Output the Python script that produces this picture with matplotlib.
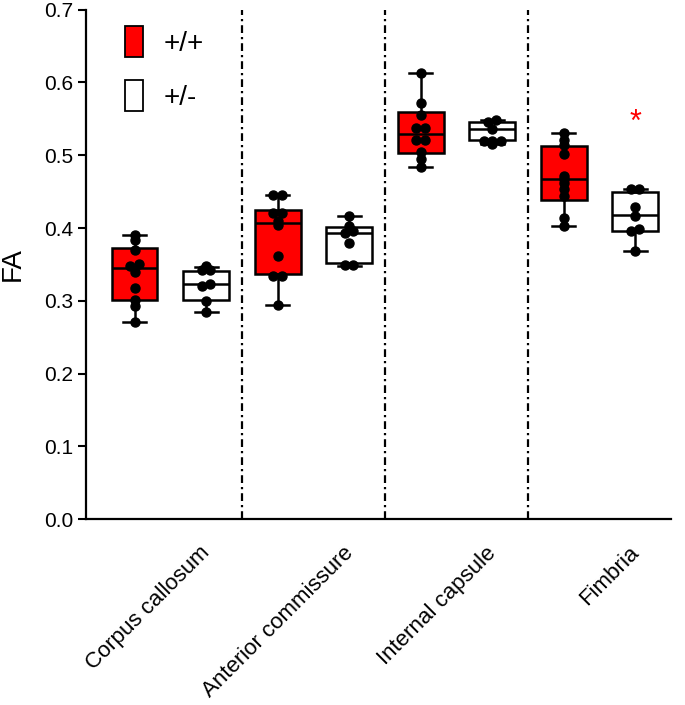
import numpy as np
import matplotlib
matplotlib.use("Agg")
import matplotlib.pyplot as plt
import matplotlib.transforms as mtransforms
from matplotlib.patches import Patch

plt.rcParams["font.family"] = ["Liberation Sans", "DejaVu Sans"]

# ------------------------------------------------------------
# data
# ------------------------------------------------------------
regions = ["Corpus callosum", "Anterior commissure", "Internal capsule", "Fimbria"]
groups = ["+/+", "+/-"]

# box statistics per region: +/+ (wild type)
wt_lo  = [0.271, 0.294, 0.484, 0.403]
wt_q1  = [0.301, 0.337, 0.503, 0.439]
wt_med = [0.345, 0.407, 0.529, 0.467]
wt_q3  = [0.372, 0.425, 0.559, 0.513]
wt_hi  = [0.391, 0.445, 0.613, 0.530]

# box statistics per region: +/- (heterozygous)
het_lo  = [0.285, 0.348, 0.515, 0.369]
het_q1  = [0.301, 0.352, 0.521, 0.396]
het_med = [0.323, 0.393, 0.536, 0.418]
het_q3  = [0.341, 0.401, 0.545, 0.450]
het_hi  = [0.347, 0.417, 0.549, 0.454]

# individual animals
wt_cc = [0.391, 0.383, 0.370, 0.351, 0.348, 0.340, 0.317, 0.301, 0.293, 0.271]
wt_ac = [0.445, 0.445, 0.421, 0.421, 0.410, 0.404, 0.361, 0.334, 0.334, 0.294]
wt_ic = [0.613, 0.572, 0.555, 0.537, 0.537, 0.521, 0.521, 0.504, 0.495, 0.484]
wt_fi = [0.530, 0.521, 0.514, 0.501, 0.472, 0.467, 0.462, 0.453, 0.444, 0.414, 0.403]

het_cc = [0.348, 0.343, 0.343, 0.323, 0.320, 0.300, 0.285]
het_ac = [0.417, 0.403, 0.396, 0.393, 0.380, 0.349, 0.349]
het_ic = [0.549, 0.546, 0.536, 0.520, 0.520, 0.519, 0.515]
het_fi = [0.454, 0.454, 0.429, 0.417, 0.399, 0.396, 0.369]

wt_points = [wt_cc, wt_ac, wt_ic, wt_fi]
het_points = [het_cc, het_ac, het_ic, het_fi]

# significance marker (+/- Fimbria)
sig_region = 3
sig_y = 0.555

# ------------------------------------------------------------
# style
# ------------------------------------------------------------
RED = "#ff0000"
OFFSET = 0.25
BOX_W = 0.32
LW = 1.8


def make_stats(lo, q1, med, q3, hi):
    return [dict(whislo=a, q1=b, med=c, q3=d, whishi=e, fliers=[])
            for a, b, c, d, e in zip(lo, q1, med, q3, hi)]


def swarm_x(vals, center, gap=0.004, step=0.06):
    # spread near-identical values side by side
    vals = np.asarray(vals)
    order = np.argsort(vals)
    xs = np.full(len(vals), float(center))
    clusters, cur = [], [order[0]]
    for i in order[1:]:
        if vals[i] - vals[cur[-1]] < gap:
            cur.append(i)
        else:
            clusters.append(cur)
            cur = [i]
    clusters.append(cur)
    for c in clusters:
        n = len(c)
        for k, idx in enumerate(c):
            xs[idx] = center + (k - (n - 1) / 2) * step
    return xs


fig = plt.figure(figsize=(6.85, 7.05), dpi=100)
ax = fig.add_axes([0.1255, 0.2634, 0.854, 0.723])

pos = np.arange(len(regions))

for stats, shift, face in [(make_stats(wt_lo, wt_q1, wt_med, wt_q3, wt_hi), -OFFSET, RED),
                           (make_stats(het_lo, het_q1, het_med, het_q3, het_hi), OFFSET, "white")]:
    ax.bxp(stats, positions=pos + shift, widths=BOX_W, capwidths=BOX_W / 2,
           patch_artist=True, showfliers=False,
           boxprops=dict(facecolor=face, edgecolor="black", linewidth=LW),
           medianprops=dict(color="black", linewidth=LW),
           whiskerprops=dict(color="black", linewidth=LW),
           capprops=dict(color="black", linewidth=LW))

for i in range(len(regions)):
    for pts, shift in [(wt_points[i], -OFFSET), (het_points[i], OFFSET)]:
        ax.plot(swarm_x(pts, i + shift), pts, "o", color="black",
                markersize=6.5, zorder=5)

# dash-dot separators between regions
for x in pos[:-1] + 0.5:
    ax.axvline(x, color="black", linewidth=1.6, linestyle=(0, (3.5, 1.8, 1, 1.8)))

ax.annotate("*", (sig_region + OFFSET, sig_y), xytext=(0, -11),
            textcoords="offset points", color=RED, fontsize=22,
            ha="center", va="baseline")

ax.set_xlim(-0.59, 3.5)
ax.set_ylim(0, 0.7)
ax.set_yticks(np.arange(0, 0.71, 0.1))
ax.set_yticklabels([f"{v:.1f}" for v in np.arange(0, 0.71, 0.1)])
ax.set_xticks(pos)
ax.set_xticklabels(regions, rotation=45, ha="right", va="top",
                   rotation_mode="anchor")
ax.tick_params(axis="x", length=0, labelsize=16, pad=8)
ax.tick_params(axis="y", length=6, width=1.5, labelsize=15, pad=3)
ax.set_ylabel("FA", fontsize=20, labelpad=13)

# shift the rotated category labels as in the original layout
shift_tr = mtransforms.ScaledTranslation(0.29, -0.12, fig.dpi_scale_trans)
for lab in ax.get_xticklabels():
    lab.set_transform(lab.get_transform() + shift_tr)

for side in ["top", "right"]:
    ax.spines[side].set_visible(False)
for side in ["left", "bottom"]:
    ax.spines[side].set_linewidth(1.6)

handles = [Patch(facecolor=RED, edgecolor="black", linewidth=1.3),
           Patch(facecolor="white", edgecolor="black", linewidth=1.3)]
ax.legend(handles, groups, loc="upper left", bbox_to_anchor=(0.0667, 0.968),
          frameon=False, fontsize=20, handlelength=0.65, handleheight=1.35,
          handletextpad=0.74, labelspacing=0.82, borderpad=0, borderaxespad=0)

fig.savefig("out.png", dpi=100)
